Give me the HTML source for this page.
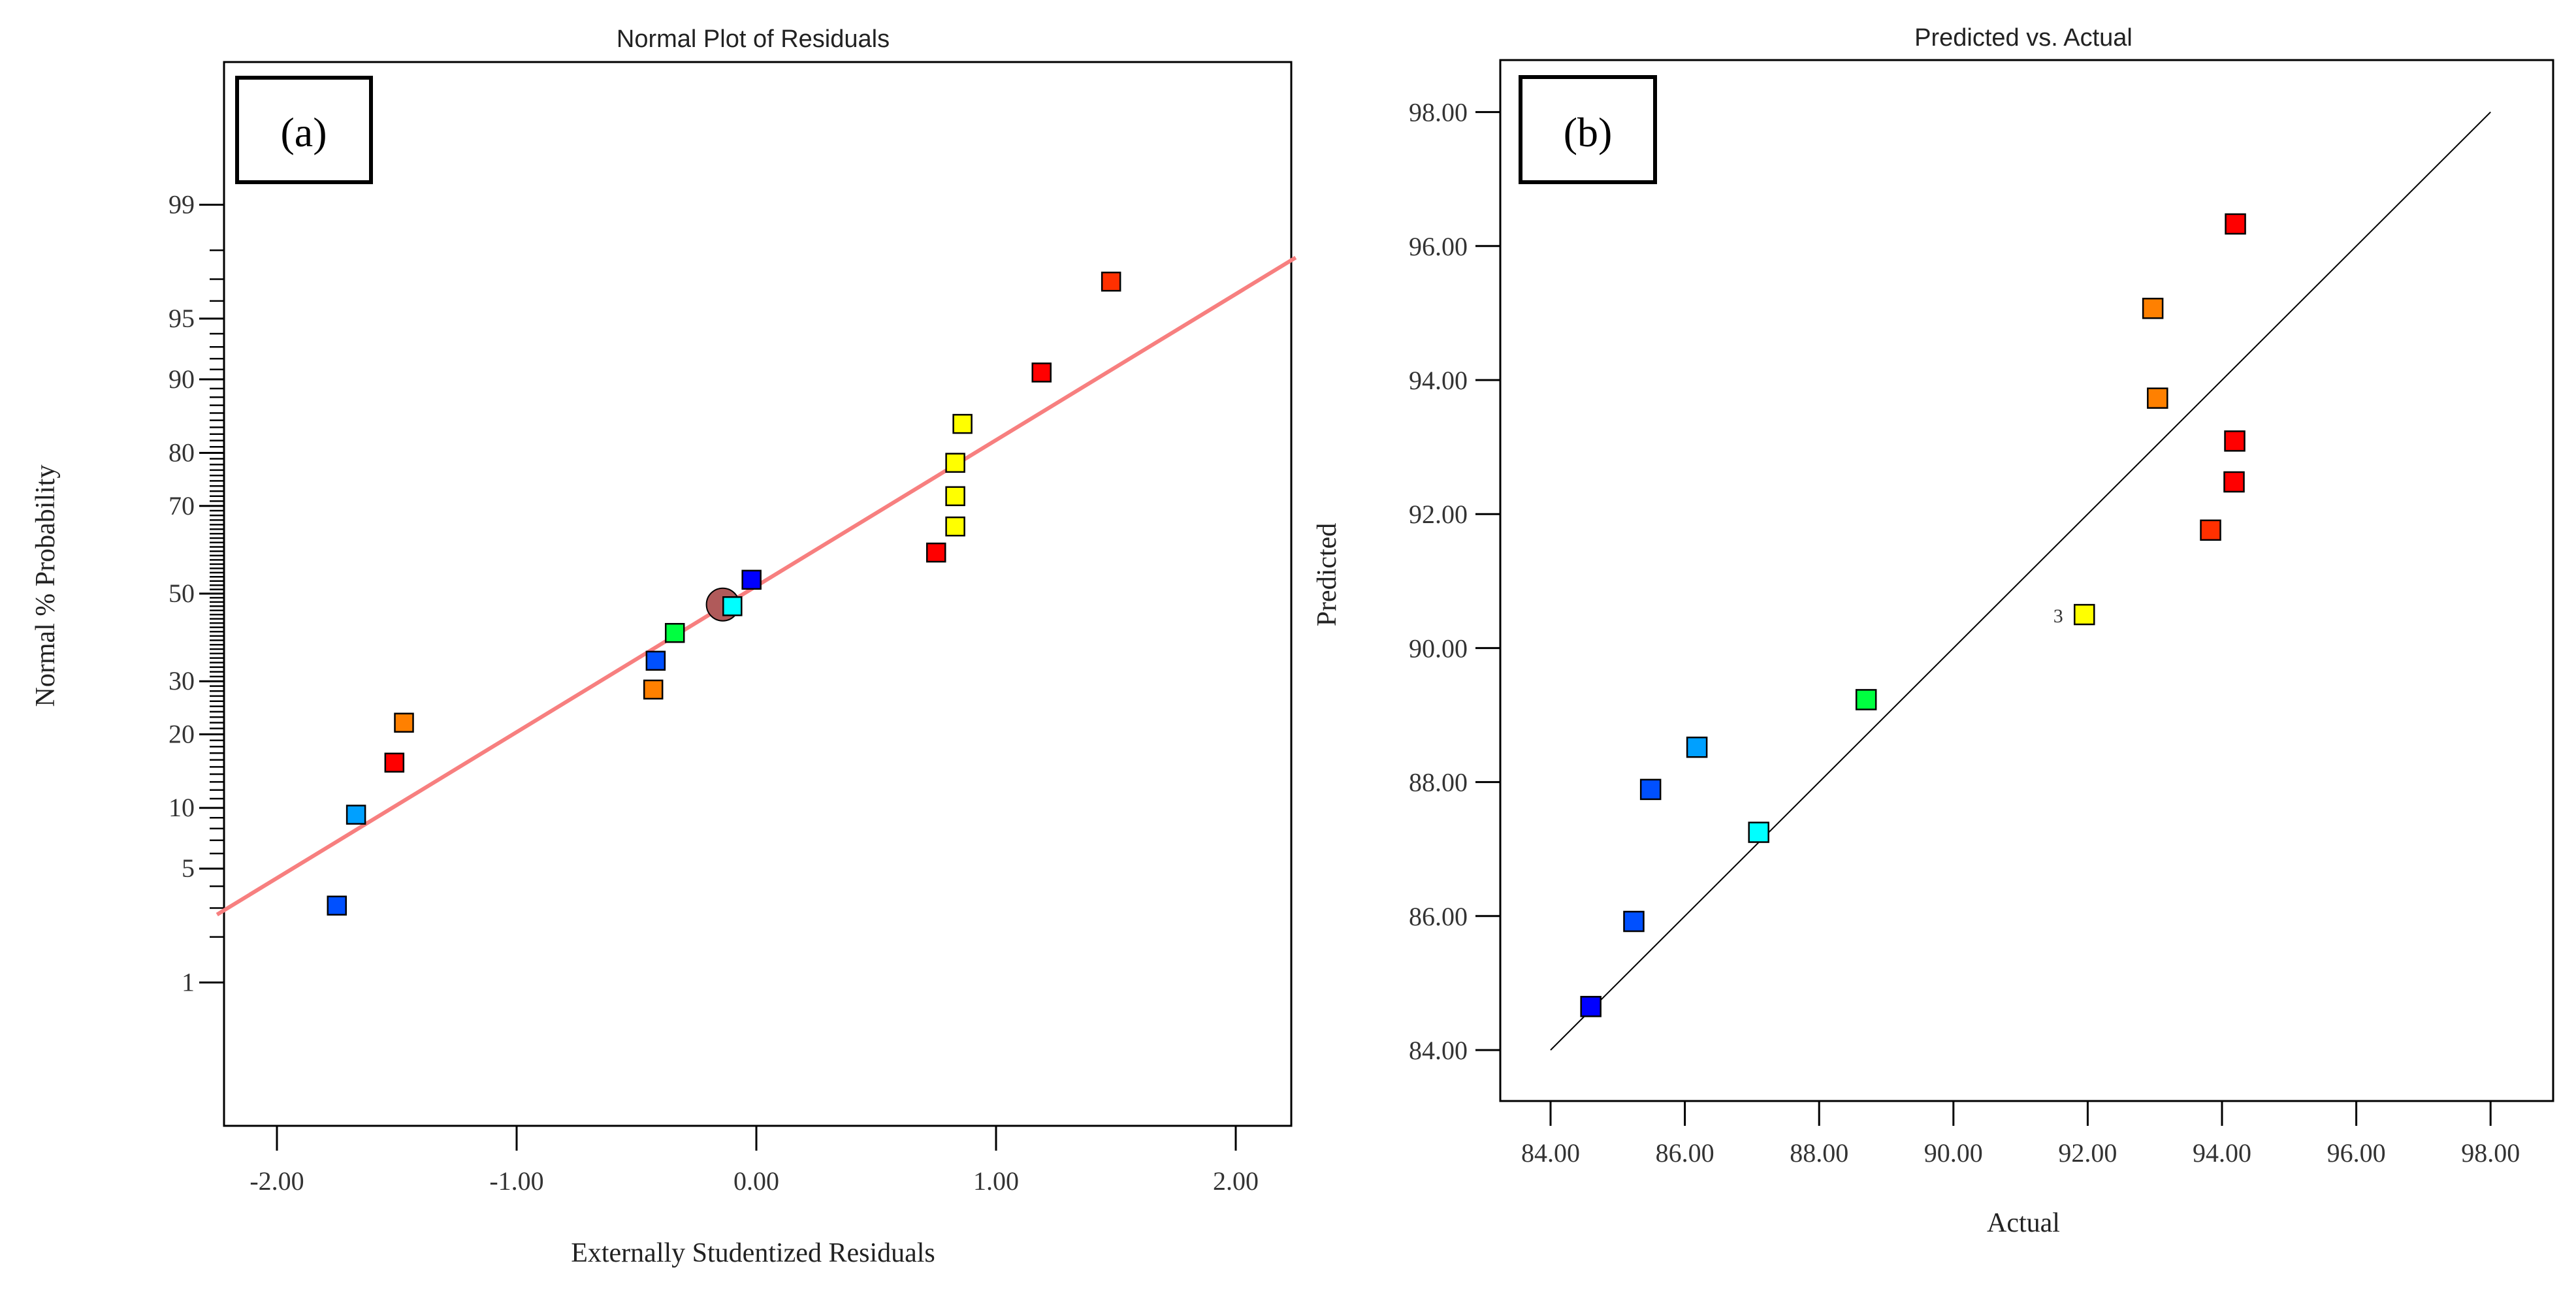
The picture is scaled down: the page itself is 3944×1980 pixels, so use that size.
<!DOCTYPE html>
<html><head><meta charset="utf-8">
<style>
html,body{margin:0;padding:0;background:#fff;}
svg{display:block;}
.tk{font-family:"Liberation Serif",serif;font-size:40px;fill:#333;}
.ttl{font-family:"Liberation Sans",sans-serif;font-size:38px;fill:#222;}
.ax{font-family:"Liberation Serif",serif;font-size:42px;fill:#222;}
</style></head>
<body>
<svg id="chart" width="3944" height="1980" viewBox="0 0 3944 1980" xmlns="http://www.w3.org/2000/svg">
<g id="pa"></g>
<g id="pb"></g>
</svg>
<script>
// ---- Panel (a) data ----
const aResiduals = [-1.75,-1.67,-1.51,-1.47,-0.43,-0.42,-0.34,-0.10,-0.02,0.75,0.83,0.83,0.83,0.86,1.19,1.48];
const aProbs = [3.1,9.3,15.6,22,28.3,34.4,40.7,47,53.3,59.7,65.6,72,78.3,84.5,90.7,96.9];
const aColors = ["#0050ff","#00a0ff","#ff0000","#ff8000","#ff8000","#0050ff","#00ff40","#00ffff","#0000ff","#ff0000","#ffff00","#ffff00","#ffff00","#ffff00","#ff0000","#ff3000"];
const aCircle = [-0.14,47.4];
const aXTicks = [-2,-1,0,1,2];
const aXTickLabels = ["-2.00","-1.00","0.00","1.00","2.00"];
const aYTicks = [1,5,10,20,30,50,70,80,90,95,99];
const aLineEnds = [[-2.25,-1.92],[2.25,2.01]]; // [residual, z-score]
// ---- Panel (b) data ----
const bActual = [94.20,92.97,93.04,94.19,94.18,93.83,91.95,88.70,86.18,85.49,87.10,85.24,84.60];
const bPredicted = [96.33,95.07,93.73,93.09,92.48,91.76,90.50,89.23,88.52,87.89,87.25,85.92,84.65];
const bColors = ["#ff0000","#ff8000","#ff8000","#ff0000","#ff0000","#ff3000","#ffff00","#00ff40","#00a0ff","#0050ff","#00ffff","#0050ff","#0000ff"];
const bTicks = [84,86,88,90,92,94,96,98];
const bTickLabels = ["84.00","86.00","88.00","90.00","92.00","94.00","96.00","98.00"];

const NS="http://www.w3.org/2000/svg";
function mk(parent,tag,attrs,text){const e=document.createElementNS(NS,tag);for(const k in attrs)e.setAttribute(k,attrs[k]);if(text!==undefined)e.textContent=text;parent.appendChild(e);return e;}
function invNorm(p){
 const a=[-39.69683028665376,220.9460984245205,-275.9285104469687,138.357751867269,-30.66479806614716,2.506628277459239];
 const b=[-54.47609879822406,161.5858368580409,-155.6989798598866,66.80131188771972,-13.28068155288572];
 const c=[-0.007784894002430293,-0.3223964580411365,-2.400758277161838,-2.549732539343734,4.374664141464968,2.938163982698783];
 const d=[0.007784695709041462,0.3224671290700398,2.445134137142996,3.754408661907416];
 const pl=0.02425;let q,r;
 if(p<pl){q=Math.sqrt(-2*Math.log(p));return (((((c[0]*q+c[1])*q+c[2])*q+c[3])*q+c[4])*q+c[5])/((((d[0]*q+d[1])*q+d[2])*q+d[3])*q+1);}
 if(p>1-pl){q=Math.sqrt(-2*Math.log(1-p));return -(((((c[0]*q+c[1])*q+c[2])*q+c[3])*q+c[4])*q+c[5])/((((d[0]*q+d[1])*q+d[2])*q+d[3])*q+1);}
 q=p-0.5;r=q*q;return (((((a[0]*r+a[1])*r+a[2])*r+a[3])*r+a[4])*r+a[5])*q/(((((b[0]*r+b[1])*r+b[2])*r+b[3])*r+b[4])*r+1);
}
// ---- Panel (a) ----
const pa=document.getElementById('pa');
const A={l:343,t:95,r:1977,b:1724};
const ax=v=>1158+v*367;
const azY=z=>909-z*256;
const ay=p=>azY(invNorm(p/100));
let e;
e=mk(pa,'text',{x:1153,y:72,'text-anchor':'middle',class:'ttl'},'Normal Plot of Residuals');


e=mk(pa,'rect',{x:A.l,y:A.t,width:A.r-A.l,height:A.b-A.t,fill:'none',stroke:'#000','stroke-width':3});


const minors=[];
for(let p=2;p<=98;p++){ if(aYTicks.indexOf(p)<0) minors.push(p); }
minors.forEach(p=>{const y=ay(p);e=mk(pa,'line',{x1:A.l-22,x2:A.l,y1:y,y2:y,stroke:'#000','stroke-width':2.5});

});
aYTicks.forEach(p=>{const y=ay(p);
 e=mk(pa,'line',{x1:A.l-38,x2:A.l,y1:y,y2:y,stroke:'#000','stroke-width':3});
 
 
 e=mk(pa,'text',{x:A.l-45,y:y+13,'text-anchor':'end',class:'tk'},String(p));
 
 
});
aXTicks.forEach((v,i)=>{const x=ax(v);
 e=mk(pa,'line',{x1:x,x2:x,y1:A.b,y2:A.b+38,stroke:'#000','stroke-width':3});
 
 
 e=mk(pa,'text',{x:x,y:1822,'text-anchor':'middle',class:'tk'},aXTickLabels[i]);
 
 
});
e=mk(pa,'text',{x:1153,y:1932,'text-anchor':'middle',class:'ax'},'Externally Studentized Residuals');


e=mk(pa,'text',{x:0,y:0,'text-anchor':'middle',class:'ax',transform:'translate(83,897) rotate(-90)'},'Normal % Probability');


e=mk(pa,'line',{x1:ax(aLineEnds[0][0]),y1:azY(aLineEnds[0][1]),x2:ax(aLineEnds[1][0]),y2:azY(aLineEnds[1][1]),stroke:'#f77f7f','stroke-width':6});


e=mk(pa,'circle',{cx:ax(aCircle[0]),cy:ay(aCircle[1]),r:25,fill:'#b05a5a',stroke:'#000','stroke-width':2});


aResiduals.forEach((v,i)=>{const x=ax(v),y=ay(aProbs[i]);
 e=mk(pa,'rect',{x:x-14,y:y-14,width:28,height:28,fill:aColors[i],stroke:'#000','stroke-width':2.5});
 
 
});
e=mk(pa,'rect',{x:363,y:119,width:205,height:160,fill:'#fff',stroke:'#000','stroke-width':6});


e=mk(pa,'text',{x:465,y:224,'text-anchor':'middle','font-family':'Liberation Serif, serif','font-size':64,fill:'#000'},'(a)');



// ---- Panel (b) ----
const pb=document.getElementById('pb');
const B={l:2297,t:92,r:3909,b:1686};
const bx=v=>2374+(v-84)*102.8;
const by=v=>1608-(v-84)*102.6;
e=mk(pb,'text',{x:3098,y:70,'text-anchor':'middle',class:'ttl'},'Predicted vs. Actual');


e=mk(pb,'rect',{x:B.l,y:B.t,width:B.r-B.l,height:B.b-B.t,fill:'none',stroke:'#000','stroke-width':3});


bTicks.forEach((v,i)=>{
 const x=bx(v),y=by(v);
 e=mk(pb,'line',{x1:x,x2:x,y1:B.b,y2:B.b+38,stroke:'#000','stroke-width':3});
 
 
 e=mk(pb,'text',{x:x,y:1779,'text-anchor':'middle',class:'tk'},bTickLabels[i]);
 
 
 e=mk(pb,'line',{x1:B.l-38,x2:B.l,y1:y,y2:y,stroke:'#000','stroke-width':3});
 
 
 e=mk(pb,'text',{x:B.l-50,y:y+14,'text-anchor':'end',class:'tk'},bTickLabels[i]);
 
 
});
e=mk(pb,'text',{x:3098,y:1886,'text-anchor':'middle',class:'ax'},'Actual');


e=mk(pb,'text',{x:0,y:0,'text-anchor':'middle',class:'ax',transform:'translate(2045,880) rotate(-90)'},'Predicted');


e=mk(pb,'line',{x1:bx(84),y1:by(84),x2:bx(98),y2:by(98),stroke:'#000','stroke-width':2});


bActual.forEach((v,i)=>{const x=bx(v),y=by(bPredicted[i]);
 e=mk(pb,'rect',{x:x-15,y:y-15,width:30,height:30,fill:bColors[i],stroke:'#000','stroke-width':2.5});
 
 
});
e=mk(pb,'text',{x:bx(bActual[6])-40,y:by(bPredicted[6])+12,'text-anchor':'middle','font-family':'Liberation Serif, serif','font-size':30,fill:'#333'},'3');


e=mk(pb,'rect',{x:2328,y:118,width:206,height:161,fill:'#fff',stroke:'#000','stroke-width':6});


e=mk(pb,'text',{x:2431,y:224,'text-anchor':'middle','font-family':'Liberation Serif, serif','font-size':64,fill:'#000'},'(b)');


</script>
</body></html>
